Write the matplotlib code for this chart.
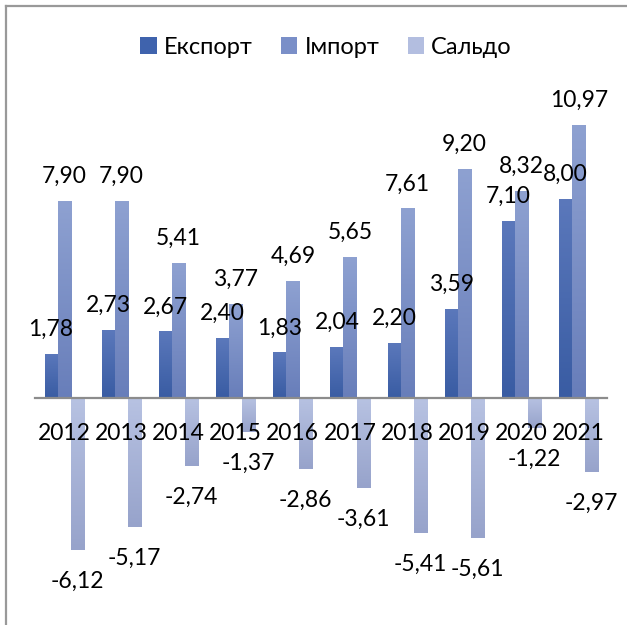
import numpy as np
import matplotlib.pyplot as plt
from matplotlib.colors import LinearSegmentedColormap
from matplotlib.lines import Line2D

plt.rcParams['font.family'] = ['Lato', 'DejaVu Sans']

years = ['2012', '2013', '2014', '2015', '2016', '2017', '2018', '2019', '2020', '2021']
export = [1.78, 2.73, 2.67, 2.40, 1.83, 2.04, 2.20, 3.59, 7.10, 8.00]
imports = [7.90, 7.90, 5.41, 3.77, 4.69, 5.65, 7.61, 9.20, 8.32, 10.97]
saldo = [-6.12, -5.17, -2.74, -1.37, -2.86, -3.61, -5.41, -5.61, -1.22, -2.97]
names = ['Експорт', 'Імпорт', 'Сальдо']

# gradient colours (top, bottom) + flat legend colour
grad = [('#5b78bb', '#395ca3'), ('#8ea1d1', '#687eba'), ('#b7c2e2', '#97a3cb')]
flat = ['#3f63ad', '#7a8fc8', '#b3bee0']

fig = plt.figure(figsize=(6.27, 6.25), dpi=100)
ax = fig.add_axes([0.0566, 0.0445, 0.912, 0.797])

x = np.arange(len(years))
w = 0.228
fs = 16.5

def fmt(v):
    return f'{v:.2f}'.replace('.', ',')

for i, (vals, name) in enumerate(zip([export, imports, saldo], names)):
    bars = ax.bar(x + (i - 1) * w, vals, w, color=flat[i], label=name, zorder=1)
    cmap = LinearSegmentedColormap.from_list('g%d' % i, [grad[i][1], grad[i][0]])
    for b in bars:
        x0, y0 = b.get_x(), b.get_y()
        x1, y1 = x0 + b.get_width(), y0 + b.get_height()
        g = np.linspace(0, 1, 100).reshape(-1, 1)
        im = ax.imshow(g, cmap=cmap, aspect='auto', origin='lower',
                       extent=[x0, x1, min(y0, y1), max(y0, y1)], zorder=1.2)
        im.set_clip_path(b)
    pad = 15 if i == 2 else 10
    ax.bar_label(bars, labels=[fmt(v) for v in vals], padding=pad, fontsize=fs)

ax.set_xlim(-0.5, 9.5)
ax.set_ylim(-8, 12)
ax.spines[['top', 'right', 'left']].set_visible(False)
ax.spines['bottom'].set_position(('data', 0))
ax.spines['bottom'].set_color('#8c8c8c')
ax.spines['bottom'].set_linewidth(1.6)
ax.spines['bottom'].set_zorder(3)
ax.set_yticks([])
ax.set_xticks(x, years, fontsize=fs)
ax.tick_params(axis='x', length=0, pad=18)

ax.legend(loc='upper center', bbox_to_anchor=(0.52, 0.975), bbox_transform=fig.transFigure,
          ncol=3, frameon=False, fontsize=17, handlelength=0.7, handleheight=0.7,
          handletextpad=0.3, columnspacing=1.2)

fig.add_artist(Line2D([0.0096, 0.0096], [0, 0.9904], transform=fig.transFigure, color='#999999', lw=1.6))
fig.add_artist(Line2D([0.0096, 1], [0.9904, 0.9904], transform=fig.transFigure, color='#999999', lw=1.6))

fig.savefig('out.png', dpi=100)
